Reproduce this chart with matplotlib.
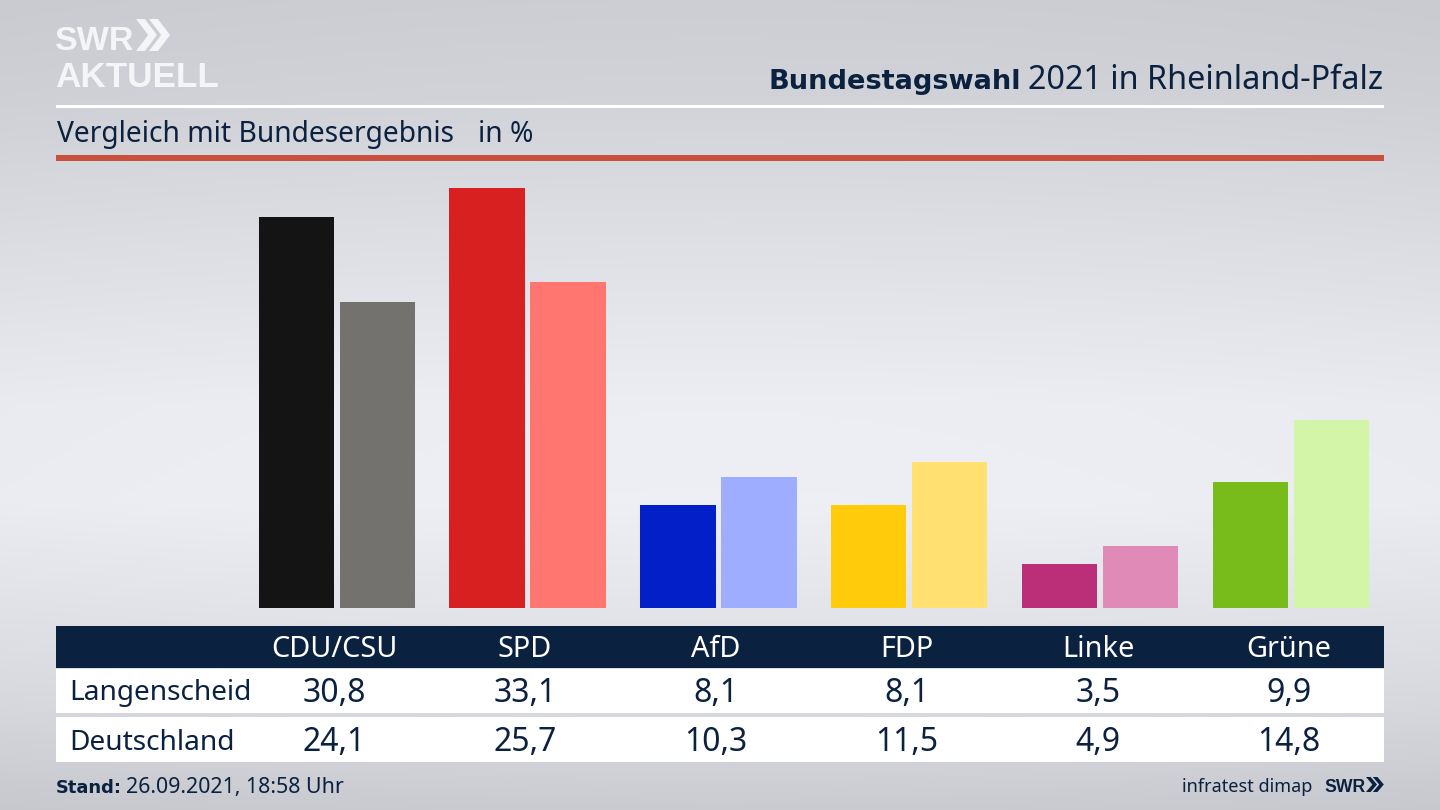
import numpy as np
import matplotlib
matplotlib.use("Agg")
import matplotlib.pyplot as plt
from matplotlib.patches import Rectangle, Polygon

parties = ["CDU/CSU", "SPD", "AfD", "FDP", "Linke", "Grüne"]
langenscheid = [30.8, 33.1, 8.1, 8.1, 3.5, 9.9]
deutschland = [24.1, 25.7, 10.3, 11.5, 4.9, 14.8]
colors_local = ["#141414", "#d7201f", "#0320c8", "#ffcb0a", "#bb2e78", "#78bc1b"]
colors_national = ["#74726f", "#ff7570", "#9eadff", "#ffe070", "#e08ab8", "#d3f5a8"]
row_names = ["Langenscheid", "Deutschland"]

NAVY = "#0b2140"
W, H = 1440, 810
PX_PER_UNIT = 12.68
BOLD = "DejaVu Sans"
LOGO = "Liberation Sans"

plt.rcParams["font.family"] = ["Noto Sans", "DejaVu Sans"]

fig = plt.figure(figsize=(14.4, 8.1), dpi=100)

# background, lighter in the middle
bg = fig.add_axes([0, 0, 1, 1])
ys = np.linspace(0, 1, 405)
shade = np.interp(ys, [0, 0.12, 0.5, 0.62, 0.85, 1], [0.80, 0.82, 0.925, 0.93, 0.86, 0.79])
xs = np.linspace(-1, 1, 720)
grad = shade[:, None] - 0.012 * xs[None, :] ** 2
rgb = np.dstack([grad, grad + 0.008, grad + 0.03])
bg.imshow(np.clip(rgb, 0, 1), extent=[0, W, H, 0], aspect="auto", interpolation="bilinear")
bg.set_xlim(0, W)
bg.set_ylim(H, 0)
bg.axis("off")

# bars
left, right, base, top = 56, 1384, 608, 160
ax = fig.add_axes([left / W, 1 - base / H, (right - left) / W, (base - top) / H])
ax.patch.set_alpha(0)
step = 190.8
first = 336.8
ax.set_xlim((left - first) / step, (right - first) / step)
ax.set_ylim(0, (base - top) / PX_PER_UNIT)
x = np.arange(len(parties))
bar_w = 75.5 / step
off = 40.5 / step
ax.bar(x - off, langenscheid, bar_w, color=colors_local)
ax.bar(x + off, deutschland, bar_w, color=colors_national)
ax.axis("off")

# overlay in pixel coordinates
ov = fig.add_axes([0, 0, 1, 1])
ov.patch.set_alpha(0)
ov.set_xlim(0, W)
ov.set_ylim(H, 0)
ov.axis("off")


def rect(x0, y0, x1, y1, color):
    ov.add_patch(Rectangle((x0, y0), x1 - x0, y1 - y0, facecolor=color, edgecolor="none"))


def chevrons(x0, y0, h, w, color):
    for dx in (0, w * 0.62):
        ov.add_patch(Polygon([(x0 + dx, y0), (x0 + dx + w * 0.42, y0),
                              (x0 + dx + w, y0 + h / 2), (x0 + dx + w * 0.42, y0 + h),
                              (x0 + dx, y0 + h), (x0 + dx + w * 0.58, y0 + h / 2)],
                             closed=True, facecolor=color, edgecolor="none"))


rect(56, 104.5, 1384, 107.5, "white")
rect(56, 155, 1384, 160.5, "#c9503c")

# logo
ov.text(55, 50, "SWR", color="#f4f5f7", fontsize=24.5, fontweight="bold", family=LOGO, va="baseline")
chevrons(136, 19, 32, 21, "#f4f5f7")
ov.text(55, 87, "AKTUELL", color="#f4f5f7", fontsize=25.3, fontweight="bold", family=LOGO, va="baseline")

# title
t = ov.text(1383, 89, "2021 in Rheinland-Pfalz", color=NAVY, fontsize=23.3, ha="right", va="baseline")
fig.canvas.draw()
bb = t.get_window_extent()
ov.text(bb.x0 - 7, 89, "Bundestagswahl", color=NAVY, fontsize=19.6, fontweight="bold", family=BOLD,
        ha="right", va="baseline")

ov.text(57, 142, "Vergleich mit Bundesergebnis", color=NAVY, fontsize=20.3, va="baseline")
ov.text(478, 142, "in %", color=NAVY, fontsize=20.3, va="baseline")

# table
rect(56, 626, 1384, 668, NAVY)
rect(56, 669, 1384, 713, "white")
rect(56, 717, 1384, 762, "white")
centers = [334 + 191 * i for i in range(len(parties))]
for cx, name, a, b in zip(centers, parties, langenscheid, deutschland):
    ov.text(cx, 657, name, color="white", fontsize=20.8, ha="center", va="baseline")
    ov.text(cx, 702, f"{a:.1f}".replace(".", ","), color=NAVY, fontsize=23, ha="center", va="baseline")
    ov.text(cx, 751, f"{b:.1f}".replace(".", ","), color=NAVY, fontsize=23, ha="center", va="baseline")
ov.text(69.5, 700, row_names[0], color=NAVY, fontsize=20.2, va="baseline")
ov.text(69.5, 750, row_names[1], color=NAVY, fontsize=20.2, va="baseline")

# footer
ov.text(56, 793, "Stand:", color=NAVY, fontsize=12.9, fontweight="bold", family=BOLD, va="baseline")
ov.text(126, 793, "26.09.2021, 18:58 Uhr", color=NAVY, fontsize=15.4, va="baseline")
ov.text(1312, 792, "infratest dimap", color=NAVY, fontsize=13, ha="right", va="baseline")
ov.text(1324, 792, "SWR", color=NAVY, fontsize=12.7, fontweight="bold", family=LOGO, va="baseline")
chevrons(1366, 777, 15, 11, NAVY)

fig.savefig("out.png", dpi=100)
